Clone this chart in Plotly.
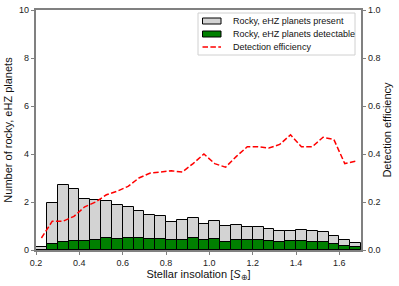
import plotly.graph_objects as go

bin_left = [0.20, 0.25, 0.30, 0.35, 0.40, 0.45, 0.50, 0.55, 0.60, 0.65,
            0.70, 0.75, 0.80, 0.85, 0.90, 0.95, 1.00, 1.05, 1.10, 1.15,
            1.20, 1.25, 1.30, 1.35, 1.40, 1.45, 1.50, 1.55, 1.60, 1.65]
present = [0.13, 1.96, 2.71, 2.55, 2.12, 2.10, 2.04, 1.86, 1.78, 1.61,
           1.44, 1.40, 1.18, 1.25, 1.32, 1.08, 1.22, 0.98, 1.04, 0.96,
           0.97, 0.87, 0.78, 0.79, 0.85, 0.78, 0.73, 0.57, 0.40, 0.29]
detectable = [0.00, 0.25, 0.35, 0.37, 0.39, 0.42, 0.48, 0.47, 0.48, 0.50,
              0.47, 0.47, 0.40, 0.42, 0.50, 0.43, 0.44, 0.35, 0.42, 0.42,
              0.43, 0.39, 0.33, 0.37, 0.36, 0.33, 0.35, 0.26, 0.17, 0.11]
efficiency = [0.05, 0.12, 0.12, 0.14, 0.18, 0.20, 0.23, 0.245, 0.265, 0.30,
              0.32, 0.325, 0.33, 0.325, 0.36, 0.40, 0.36, 0.345, 0.39, 0.43,
              0.43, 0.425, 0.44, 0.48, 0.43, 0.43, 0.47, 0.46, 0.36, 0.37]
bin_width = 0.05
centers = [b + bin_width / 2 for b in bin_left]

x_ticks = [0.2, 0.4, 0.6, 0.8, 1.0, 1.2, 1.4, 1.6]
y_ticks = [0, 2, 4, 6, 8, 10]
y2_ticks = [0.0, 0.2, 0.4, 0.6, 0.8, 1.0]

legend_labels = ["Rocky, eHZ planets present",
                 "Rocky, eHZ planets detectable",
                 "Detection efficiency"]

W, H = 399, 286
ML, MR, MT, MB = 36, 38, 10, 36
PW, PH = W - ML - MR, H - MT - MB


def px(x):
    return (x - ML) / PW


def py(y):
    return (H - MB - y) / PH


spine = "#808080"
font = "Liberation Sans, Arial, sans-serif"
gray_fill = "#d3d3d3"
green_fill = "#008000"
dash_style = "5.5px,2.4px"

fig = go.Figure()
fig.add_trace(go.Bar(
    x=centers, y=present, width=bin_width,
    marker=dict(color=gray_fill, line=dict(color="black", width=1)),
    name=legend_labels[0], showlegend=False))
fig.add_trace(go.Bar(
    x=centers, y=detectable, width=bin_width,
    marker=dict(color=green_fill, line=dict(color="black", width=1)),
    name=legend_labels[1], showlegend=False))
fig.add_trace(go.Scatter(
    x=centers, y=efficiency, mode="lines", yaxis="y2",
    line=dict(color="red", width=1.5, dash=dash_style),
    name=legend_labels[2], showlegend=False))

# custom legend (matplotlib-like)
shapes = [dict(type="rect", xref="paper", yref="paper",
               x0=px(198), x1=px(355), y0=py(55), y1=py(13),
               line=dict(color="#cccccc", width=1), fillcolor="white",
               opacity=0.9, layer="above")]
rows = [21, 34, 47]
shapes.append(dict(type="rect", xref="paper", yref="paper",
                   x0=px(202.5), x1=px(221), y0=py(rows[0] + 3), y1=py(rows[0] - 3),
                   line=dict(color="black", width=1), fillcolor=gray_fill,
                   layer="above"))
shapes.append(dict(type="rect", xref="paper", yref="paper",
                   x0=px(202.5), x1=px(221), y0=py(rows[1] + 3), y1=py(rows[1] - 3),
                   line=dict(color="black", width=1), fillcolor=green_fill,
                   layer="above"))
shapes.append(dict(type="line", xref="paper", yref="paper",
                   x0=px(202.5), x1=px(221), y0=py(rows[2]), y1=py(rows[2]),
                   line=dict(color="red", width=1.5, dash=dash_style),
                   layer="above"))
annotations = []
for r, lab in zip(rows, legend_labels):
    annotations.append(dict(x=px(231), y=py(r), xref="paper", yref="paper",
                            text=lab, showarrow=False, xanchor="left",
                            yanchor="middle", font=dict(size=9, color="#111111")))

fig.update_layout(
    width=W, height=H,
    margin=dict(l=ML, r=MR, t=MT, b=MB),
    paper_bgcolor="white", plot_bgcolor="white",
    barmode="overlay", bargap=0,
    font=dict(family=font, size=9, color="#111111"),
    showlegend=False,
    shapes=shapes, annotations=annotations,
    xaxis=dict(range=[0.2, 1.7], tickvals=x_ticks,
               ticktext=[f"{v:.1f}" for v in x_ticks],
               showline=True, linecolor=spine, linewidth=1.5, mirror=True,
               ticks="outside", ticklen=3.5, tickcolor=spine, tickwidth=1,
               tickfont=dict(size=9, color="#222222"),
               showgrid=False, zeroline=False, automargin=False,
               title=dict(text="Stellar insolation [<i>S</i><sub>⊕</sub>]",
                          font=dict(size=11, color="#111111"), standoff=2)),
    yaxis=dict(range=[0, 10], tickvals=y_ticks,
               showline=True, linecolor=spine, linewidth=1.5,
               ticks="outside", ticklen=3.5, tickcolor=spine, tickwidth=1,
               tickfont=dict(size=9, color="#222222"),
               showgrid=False, zeroline=False, automargin=False,
               title=dict(text="Number of rocky, eHZ planets",
                          font=dict(size=11, color="#111111"), standoff=4)),
    yaxis2=dict(range=[0, 1], tickvals=y2_ticks,
                ticktext=[f"{v:.1f}" for v in y2_ticks],
                overlaying="y", side="right",
                showline=True, linecolor=spine, linewidth=1.5,
                ticks="outside", ticklen=3.5, tickcolor=spine, tickwidth=1,
                tickfont=dict(size=9, color="#222222"),
                showgrid=False, zeroline=False, automargin=False,
                title=dict(text="Detection efficiency",
                           font=dict(size=11, color="#111111"), standoff=1)),
)

fig.write_html("out.html",
               config={"displayModeBar": False},
               post_script="document.body.style.margin='0';")
